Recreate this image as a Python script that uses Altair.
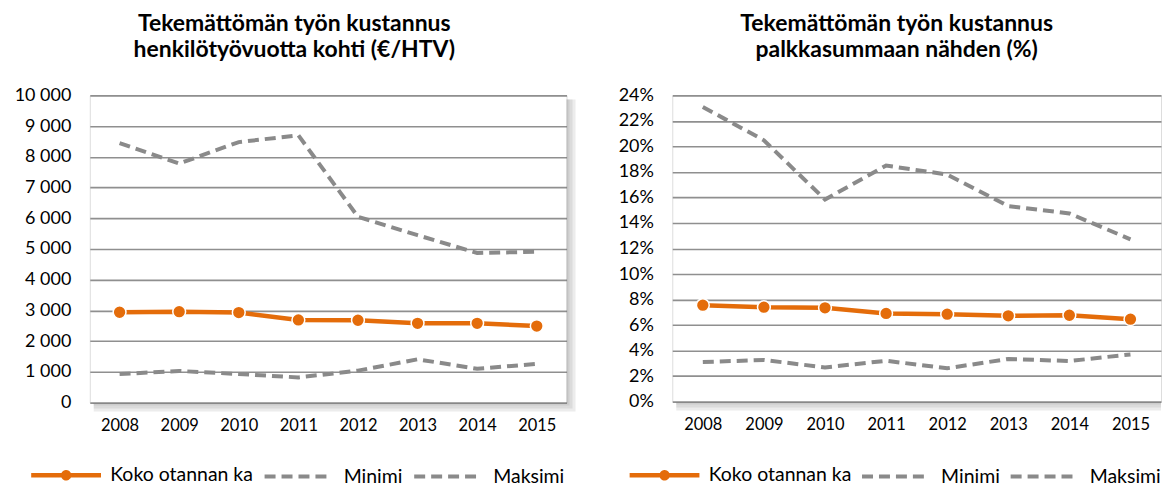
import altair as alt
import pandas as pd

FONT = "Lato"
ORANGE = "#E46C0A"
GRAY = "#8A8A8A"
GRID = "#8F8F8F"

years = ["2008", "2009", "2010", "2011", "2012", "2013", "2014", "2015"]
series_names = ["Koko otannan ka", "Minimi", "Maksimi"]

# Left panel: cost per person-year (EUR/HTV)
htv_avg = [2940, 2960, 2930, 2690, 2680, 2580, 2580, 2490]
htv_min = [930, 1030, 930, 820, 1040, 1410, 1100, 1260]
htv_max = [8450, 7780, 8480, 8700, 6050, 5450, 4870, 4910]
htv_ticks = [0, 1000, 2000, 3000, 4000, 5000, 6000, 7000, 8000, 9000, 10000]

# Right panel: cost relative to payroll (%)
pct_avg = [0.0756, 0.0740, 0.0735, 0.0691, 0.0685, 0.0672, 0.0677, 0.0646]
pct_min = [0.0310, 0.0326, 0.0268, 0.0320, 0.0261, 0.0334, 0.0318, 0.0370]
pct_max = [0.2309, 0.2048, 0.1584, 0.1850, 0.1780, 0.1532, 0.1475, 0.1272]
pct_ticks = [0.0, 0.02, 0.04, 0.06, 0.08, 0.10, 0.12, 0.14, 0.16, 0.18, 0.20, 0.22, 0.24]

title_left = ["Tekemättömän työn kustannus", "henkilötyövuotta kohti (€/HTV)"]
title_right = ["Tekemättömän työn kustannus", "palkkasummaan nähden (%)"]

# legend symbol paths (unit = 7.5 px for symbolSize 225)
DOT_PATH = ("M-1,0L8.33,0M3.27,0A0.4,0.4,0,1,0,4.07,0"
            "A0.4,0.4,0,1,0,3.27,0Z")
DASH_PATH = "M-1,0L7.93,0"


def make_df(avg, mn, mx):
    rows = []
    for name, vals in zip(series_names, [avg, mn, mx]):
        for yr, v in zip(years, vals):
            rows.append({"year": yr, "series": name, "value": v})
    return pd.DataFrame(rows)


def panel(avg, mn, mx, title_lines, title_dx, ticks, domain, W, H, ext,
          legend_x, legend_y, col_pad, right_shadow, label_expr=None, fmt=None):
    df = make_df(avg, mn, mx)
    is_avg = f"datum.value === '{series_names[0]}'"
    legend = alt.Legend(
        orient="none", legendX=legend_x, legendY=legend_y,
        direction="horizontal", title=None, padding=0,
        symbolSize=225, labelOffset=62, columnPadding=col_pad,
        symbolType={"expr": f"{is_avg} ? '{DOT_PATH}' : '{DASH_PATH}'"},
        symbolFillColor={"expr": f"{is_avg} ? '{ORANGE}' : 'transparent'"},
        symbolDash={"expr": f"{is_avg} ? [1,0] : [11,6]"},
        symbolStrokeWidth={"expr": f"{is_avg} ? 4.5 : 4"},
        symbolOpacity=1,
        labelFont=FONT, labelFontSize=19.5, labelColor="#000",
    )
    stroke = alt.Stroke(
        "series:N",
        scale=alt.Scale(domain=series_names, range=[ORANGE, GRAY, GRAY]),
        legend=legend,
    )
    x = alt.X(
        "year:O", sort=years,
        axis=alt.Axis(title=None, labelAngle=0, domain=False, ticks=False,
                      labelPadding=15, labelFont=FONT, labelFontSize=16.5,
                      labelColor="#000", grid=False),
    )
    ykw = dict(title=None, values=ticks, domain=False, ticks=False, grid=True,
               gridColor=GRID, gridWidth=1.6, labelPadding=19,
               labelFont=FONT, labelFontSize=18, labelColor="#000",
               minExtent=ext, maxExtent=ext)
    if label_expr:
        ykw["labelExpr"] = label_expr
    if fmt:
        ykw["format"] = fmt
    y = alt.Y("value:Q", scale=alt.Scale(domain=domain, nice=False, zero=True),
              axis=alt.Axis(**ykw))

    dummy = alt.Chart(pd.DataFrame({"k": [0]}))
    layers = []
    for s in [3, 6, 9]:
        if right_shadow:
            layers.append(dummy.mark_rect(fill="#7a7a7a", opacity=0.14).encode(
                x=alt.value(W), x2=alt.value(W + s),
                y=alt.value(4), y2=alt.value(H + s)))
        layers.append(dummy.mark_rect(fill="#7a7a7a", opacity=0.14).encode(
            x=alt.value(4), x2=alt.value(W),
            y=alt.value(H + 1), y2=alt.value(H + s)))

    base = alt.Chart(df)
    gray = base.transform_filter(alt.datum.series != series_names[0]).mark_line(
        strokeWidth=4, strokeDash=[11, 6], strokeCap="butt"
    ).encode(x=x, y=y, stroke=stroke)
    orange = base.transform_filter(alt.datum.series == series_names[0]).mark_line(
        strokeWidth=4.5
    ).encode(x=x, y=y, stroke=stroke)
    pts = base.transform_filter(alt.datum.series == series_names[0]).mark_circle(
        size=165, opacity=1, fill=ORANGE, stroke="white", strokeWidth=1.5
    ).encode(x=x, y=y)

    layers += [gray, orange, pts]
    return alt.layer(*layers).properties(
        width=W, height=H,
        title=alt.TitleParams(text=title_lines, font=FONT, fontSize=23,
                              fontWeight="bold", color="#000", anchor="middle",
                              dx=title_dx, offset=24, lineHeight=27),
    )


left = panel(htv_avg, htv_min, htv_max, title_left, -34, htv_ticks, [0, 10000],
             478, 308, 75, -61, 371, 3, True,
             label_expr="datum.value >= 1000 ? (datum.value / 1000) + ' 000' : '0'")
right = panel(pct_avg, pct_min, pct_max, title_right, -20, pct_ticks, [0, 0.24],
              490, 307, 58, -45, 371, 2, False, fmt=".0%")

chart = alt.hconcat(left, right, spacing=37).resolve_scale(
    stroke="independent", x="independent", y="independent"
).resolve_legend(stroke="independent").properties(
    padding={"left": 5, "top": 3, "right": 0, "bottom": 0},
    background="white",
).configure_view(stroke=None).configure(font=FONT)

chart.save("out.html", embed_options={"renderer": "svg", "actions": False})
